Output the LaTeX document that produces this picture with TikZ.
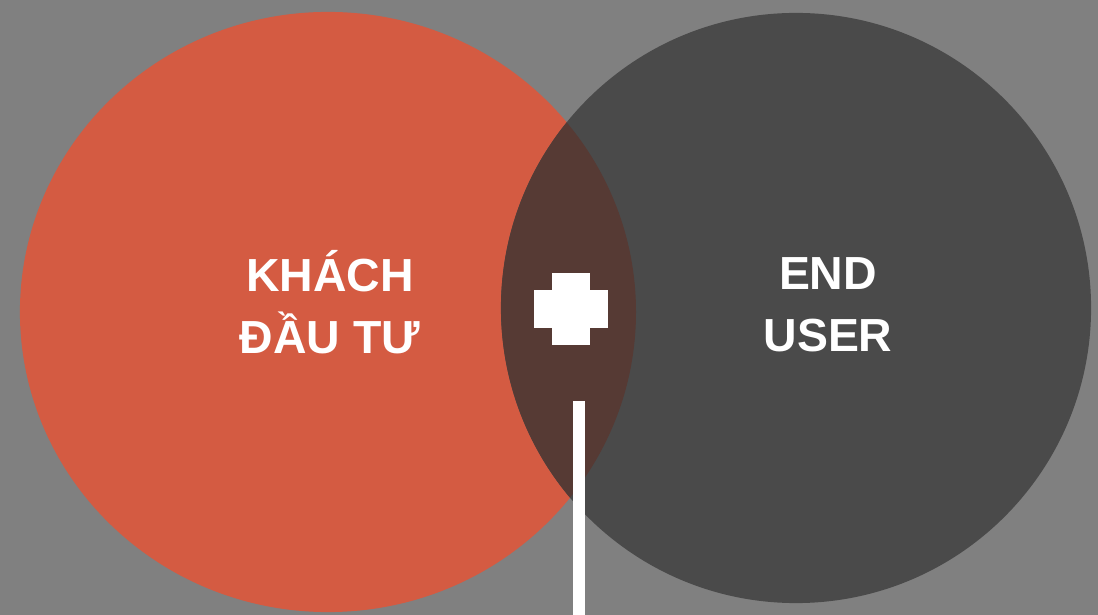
\documentclass[tikz,border=0pt]{standalone}
\usepackage{fontspec}
\setmainfont{Liberation Sans}
\usetikzlibrary{shapes.geometric}
\definecolor{bggray}{RGB}{128,128,128}
\definecolor{investorred}{RGB}{212,91,66}
\definecolor{userdark}{RGB}{74,74,74}
\definecolor{overlapbrown}{RGB}{86,58,52}
\newcommand\venntextsize{\fontsize{33}{40}\selectfont\bfseries}
\tikzstyle{leftset} = [ellipse, inner sep=0pt, minimum width=15.4cm, minimum height=15cm, fill=investorred]
\tikzstyle{rightset} = [circle, inner sep=0pt, minimum size=14.75cm, fill=userdark]
\tikzstyle{venntext} = [anchor=base, inner sep=0pt, text=white, font=\venntextsize]
\tikzstyle{plusbar} = [rectangle, inner sep=0pt, fill=white]
\tikzstyle{stemline} = [draw=white, line width=0.3cm]

\begin{document}
\begin{tikzpicture}[x=0.025cm, y=-0.025cm]

            \fill [bggray] (0,0) rectangle (1098,615);
            \useasboundingbox (0,0) rectangle (1098,615);

            \node (investor) [leftset] at (328,312) {};
            \node (enduser) [rightset] at (796,308) {};
            \begin{scope}
                \clip (328,312) ellipse [x radius=308, y radius=300];
                \fill [overlapbrown] (796,308) circle [radius=295];
            \end{scope}

            \node (khach) [venntext] at (330,292) {KHÁCH};
            \node (dautu) [venntext] at (330,354) {ĐẦU TƯ};
            \node (end) [venntext] at (828,290) {END};
            \node (user) [venntext] at (828,352) {USER};

            \node (plus) [plusbar, minimum width=1.83cm, minimum height=0.93cm] at (571,309) {};
            \node (plusv) [plusbar, minimum width=0.93cm, minimum height=1.8cm] at (plus) {};

            \coordinate (stemtop) at (579,401);
            \coordinate (stembottom) at (579,615);
            \draw [stemline] (stemtop) -- (stembottom);

        \end{tikzpicture}
\end{document}
